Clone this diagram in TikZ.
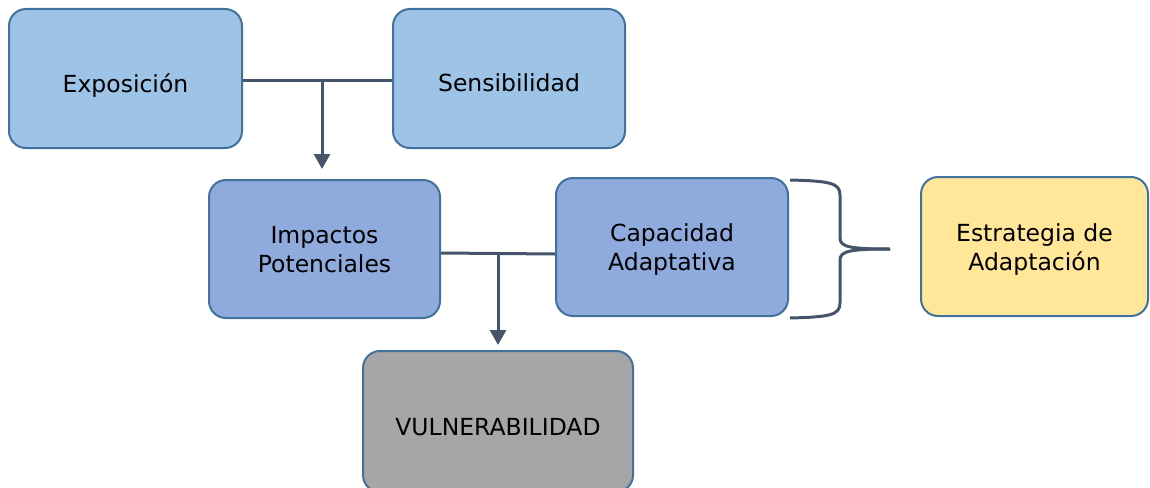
\documentclass[tikz,border=0pt]{standalone}
\usepackage{fontspec}
\setmainfont{DejaVu Sans}
\usetikzlibrary{arrows.meta}
\definecolor{bluefill}{HTML}{9DC3E6}
\definecolor{midfill}{HTML}{8FAADC}
\definecolor{yelfill}{HTML}{FFE699}
\definecolor{grayfill}{HTML}{A6A6A6}
\definecolor{edge}{HTML}{41719C}
\definecolor{conncol}{HTML}{44546A}
\newcommand\boxtxt[2][8.5pt]{\raisebox{-#1}[\height][\depth]{\begin{tabular}{@{}c@{}}#2\end{tabular}}}
\tikzset{
  box/.style={draw=edge, line width=2pt, rounded corners=17pt, align=center,
    font=\fontsize{23.5}{29}\selectfont, text=black, inner sep=0pt},
  conn/.style={draw=conncol, line width=3pt},
  arr/.style={conn, -{Triangle[width=16pt,length=15pt]}},
}
\begin{document}
\begin{tikzpicture}[x=1pt,y=-1pt]
\useasboundingbox (0,0) rectangle (1150,487);
\node[box, fill=bluefill, minimum width=233pt, minimum height=139pt] (expo) at (125.5,78.5) {\boxtxt{Exposición}};
\node[box, fill=bluefill, minimum width=232pt, minimum height=139pt] (sens) at (509,78.5) {\boxtxt[7pt]{Sensibilidad}};
\node[box, fill=midfill, minimum width=231pt, minimum height=138pt] (imp) at (324.5,249) {\boxtxt[3.5pt]{Impactos\\Potenciales}};
\node[box, fill=midfill, minimum width=232pt, minimum height=138pt] (cap) at (672,247) {\boxtxt[3.5pt]{Capacidad\\Adaptativa}};
\node[box, fill=yelfill, minimum width=227pt, minimum height=139pt] (estr) at (1034.5,246.5) {\boxtxt[3.5pt]{Estrategia de\\Adaptación}};
\node[box, fill=grayfill, minimum width=270pt, minimum height=141pt] (vuln) at (498,421.5) {\boxtxt{VULNERABILIDAD}};
\draw[conn] ([yshift=-1.5pt]expo.east) -- ([yshift=-1.5pt]sens.west);
\coordinate (j1) at (322,80);
\draw[arr, shorten >=10pt] (j1) -- (j1 |- imp.north);
\draw[conn] ([yshift=-4pt]imp.east) -- ([yshift=-7pt]cap.west);
\coordinate (j2) at (498,253.5);
\draw[arr, shorten >=5pt] (j2) -- (j2 |- vuln.north);
\coordinate (bt) at (790,180);
\coordinate (bb) at (790,318);
\coordinate (tip) at (890,249);
\draw[conn] (bt) .. controls (830,181) and (840,183) .. (840,195) -- (840,238) .. controls (840,247) and (850,249) .. (tip);
\draw[conn] (bb) .. controls (830,317) and (840,315) .. (840,303) -- (840,260) .. controls (840,251) and (850,249) .. (tip);
\end{tikzpicture}
\end{document}
